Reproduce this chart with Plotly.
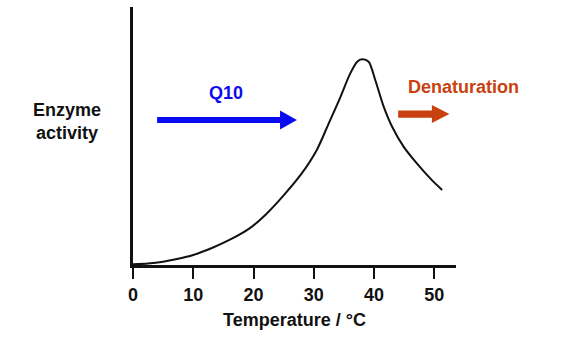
import plotly.graph_objects as go

# Enzyme activity versus temperature (arbitrary activity units, 0-100 scale)
temperature = [0, 2.5, 5, 7.5, 10, 13, 16, 19.4, 22.0, 25.0, 28.0, 30.5, 32.5, 34.4,
               36.0, 37.2, 38.0, 39.1, 40.2, 41.6, 43.0, 44.9, 47.1, 49.6, 51.3]
activity = [0.3, 0.6, 1.3, 2.4, 3.9, 6.5, 9.7, 14.3, 19.5, 27.0, 35.5, 44.6, 55.0, 65.0,
            74.0, 78.8, 79.7, 78.8, 71.7, 61.4, 53.6, 45.9, 39.4, 32.9, 29.1]

tick_values = [0, 10, 20, 30, 40, 50]
tick_labels = ["0", "10", "20", "30", "40", "50"]

FONT = "Liberation Sans, Arial, Helvetica, sans-serif"
INK = "#111111"
BLUE = "#0c0cf2"
RUST = "#c8410f"

W, H = 582, 343
ML, MR, MT, MB = 133, 126, 7, 78
PLOT_W = W - ML - MR
PLOT_H = H - MT - MB


def paper_x(px):
    return (px - ML) / PLOT_W


def paper_y(py):
    return (H - MB - py) / PLOT_H


def arrow_path(x0, x1, x_tip, yc, shaft_half, head_half):
    """Closed path for a block arrow pointing right, in data units."""
    pts = [(x0, yc - shaft_half), (x1, yc - shaft_half), (x1, yc - head_half),
           (x_tip, yc), (x1, yc + head_half), (x1, yc + shaft_half),
           (x0, yc + shaft_half)]
    return "M " + " L ".join(f"{x},{y}" for x, y in pts) + " Z"


fig = go.Figure()
fig.add_trace(go.Scatter(
    x=temperature, y=activity, mode="lines",
    line=dict(color=INK, width=2, shape="spline", smoothing=0.8),
    hoverinfo="skip", showlegend=False,
))

# Q10 arrow (rising rate) and denaturation arrow
fig.add_shape(type="path", xref="x", yref="y",
              path=arrow_path(4.0, 24.4, 27.2, 56.2, 1.15, 3.7),
              fillcolor=BLUE, line=dict(width=0))
fig.add_shape(type="path", xref="x", yref="y",
              path=arrow_path(44.0, 49.6, 52.5, 58.5, 1.4, 3.5),
              fillcolor=RUST, line=dict(width=0))

fig.add_annotation(x=15.4, y=66.7, xref="x", yref="y", text="Q10", showarrow=False,
                   xanchor="center", yanchor="middle",
                   font=dict(family=FONT, size=18, color=BLUE, weight="bold"))
fig.add_annotation(x=paper_x(463), y=paper_y(87), xref="paper", yref="paper",
                   text="Denaturation", showarrow=False,
                   xanchor="center", yanchor="middle",
                   font=dict(family=FONT, size=18, color=RUST, weight="bold"))
fig.add_annotation(x=paper_x(67), y=paper_y(121), xref="paper", yref="paper",
                   text="Enzyme<br>activity", showarrow=False, align="center",
                   xanchor="center", yanchor="middle",
                   font=dict(family=FONT, size=18, color=INK, weight="bold"))

fig.update_layout(
    width=W, height=H,
    margin=dict(l=ML, r=MR, t=MT, b=MB),
    paper_bgcolor="white", plot_bgcolor="white",
    font=dict(family=FONT, color=INK),
)

fig.update_xaxes(
    range=[0, 53.6], showgrid=False, zeroline=False,
    showline=True, linecolor=INK, linewidth=3,
    ticks="outside", ticklen=11, tickwidth=2, tickcolor=INK,
    tickvals=tick_values, ticktext=tick_labels,
    tickfont=dict(family=FONT, size=18, color=INK, weight="bold"),
    title=dict(text="Temperature / °C", standoff=10,
               font=dict(family=FONT, size=18, color=INK, weight="bold")),
)
fig.update_yaxes(
    range=[0, 100], showgrid=False, zeroline=False,
    showline=True, linecolor=INK, linewidth=3,
    showticklabels=False, ticks="",
)

fig.write_html("out.html")
